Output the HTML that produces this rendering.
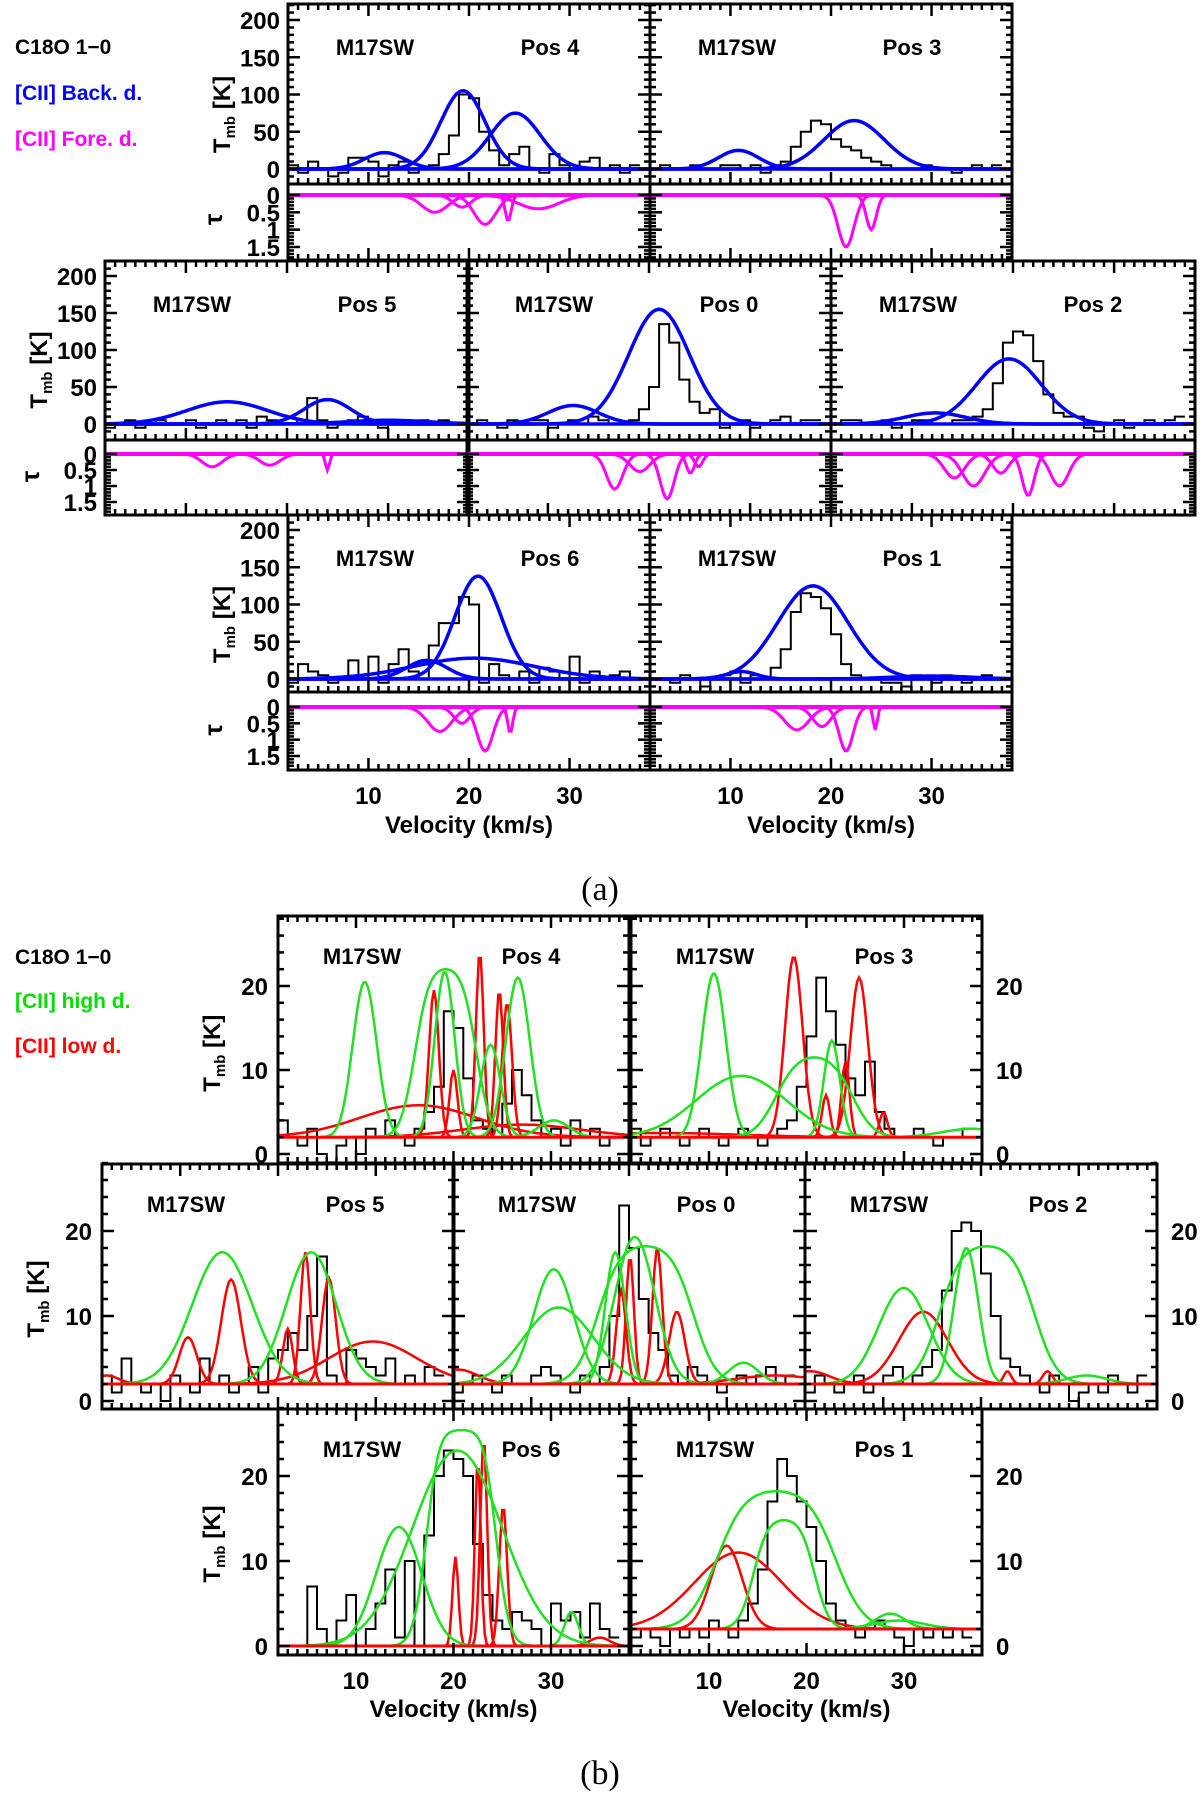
<!DOCTYPE html>
<html><head><meta charset="utf-8"><style>
body{margin:0;background:#fff}
svg text{font-family:"Liberation Sans",sans-serif;font-weight:bold}
</style></head><body>
<svg id="fig" width="1200" height="1795" viewBox="0 0 1200 1795" xmlns="http://www.w3.org/2000/svg">
<g id="legendA">
<text x="15" y="54" font-size="21" fill="#000">C18O 1−0</text>
<text x="15" y="100" font-size="21" fill="#0000ff">[CII] Back. d.</text>
<text x="15" y="146" font-size="21" fill="#ff00ff">[CII] Fore. d.</text>
</g>
<g id="legendB">
<text x="15" y="964" font-size="21" fill="#000">C18O 1−0</text>
<text x="15" y="1008" font-size="21" fill="#00e000">[CII] high d.</text>
<text x="15" y="1053" font-size="21" fill="#ff0000">[CII] low d.</text>
</g>
<text x="600" y="900" font-size="34" text-anchor="middle" style="font-family:'Liberation Serif',serif;font-weight:normal">(a)</text>
<text x="600" y="1784" font-size="34" text-anchor="middle" style="font-family:'Liberation Serif',serif;font-weight:normal">(b)</text>
</svg>
<script>
// ---------- data (a) ----------
const aPositions = ["Pos 4","Pos 3","Pos 5","Pos 0","Pos 2","Pos 6","Pos 1"];
const aObs = [
 [15,5,-5,10,0,-10,-5,15,15,10,-10,5,10,-5,0,5,20,45,100,95,50,25,5,20,30,0,-5,20,5,0,10,15,0,5,-5,5],
 [5,0,5,0,0,5,0,0,5,5,0,5,-5,5,10,30,50,65,60,40,30,25,15,10,5,0,0,0,5,0,0,-5,0,5,0,5],
 [5,-5,0,5,-5,0,5,0,0,5,-5,0,5,0,5,-5,10,5,0,0,5,35,5,-5,0,5,10,5,-5,0,5,0,5,0,5,0],
 [5,0,5,0,-5,5,0,5,5,-5,0,5,0,10,5,0,0,5,20,50,135,110,60,30,15,20,-5,0,5,-5,0,5,10,0,5,5],
 [5,0,5,5,0,0,5,-5,0,5,5,0,0,5,5,10,20,55,110,125,120,85,40,15,10,10,-5,-10,0,5,-5,0,5,0,5,10],
 [30,-5,20,10,5,-5,0,25,0,30,-5,20,40,10,0,45,75,75,110,100,-5,20,5,0,10,-5,15,10,0,30,-5,10,0,5,10,0],
 [5,0,0,-5,5,0,-10,0,5,10,-5,5,0,15,40,90,115,110,95,60,20,5,0,0,-5,-5,-10,5,0,-5,5,0,-5,0,5,0]
];
// blue gaussians: [amp, center, sigma]
const aBack = [
 [[22,11.6,2],[105,19.4,2.2],[75,24.6,2.5]],
 [[25,10.8,2],[65,22.3,3]],
 [[30,14.1,4],[33,24,2.3],[5,30,4]],
 [[25,12.5,2.5],[155,21,3]],
 [[15,12.3,3],[88,19.6,3.2]],
 [[25,15.8,2],[138,20.9,2.3],[28,20.5,6]],
 [[10,11.1,1.5],[125,18.2,3.5],[4,30,4]]
];
// magenta optical depth: [tau, center, sigma]
const aFore = [
 [[0.5,16.6,1.3],[0.35,19.3,0.9],[0.85,21.6,1.1],[0.75,23.9,0.3],[0.4,26.9,2]],
 [[1.5,21.5,0.8],[1.0,24,0.5]],
 [[0.4,12.6,1],[0.35,18.3,1],[0.5,24,0.2]],
 [[1.1,16.6,0.8],[0.55,19.1,1],[1.4,21.8,0.7],[0.6,24.1,0.4],[0.4,24.9,0.4]],
 [[0.75,14.2,1],[1.0,16.1,1.1],[0.6,18.8,0.8],[1.3,21.5,0.6],[1.0,24.6,0.9]],
 [[0.75,17.1,1.2],[0.5,19.3,0.8],[1.35,21.6,0.8],[0.8,24.1,0.25]],
 [[0.7,16.6,1.2],[0.6,19.1,0.9],[1.35,21.5,0.7],[0.7,24.4,0.2]]
];
const aYTicks = [0,50,100,150,200];
const aTauTicks = ["0","0.5","1","1.5"];
const aTauTickVals = [0,0.5,1,1.5];
const xTicks = [10,20,30];

// ---------- data (b) ----------
const bPositions = ["Pos 4","Pos 3","Pos 5","Pos 0","Pos 2","Pos 6","Pos 1"];
const bBase = [2,2,2,2,2,0,2];
const bObs = [
 [3,4,2,1,3,0,-1,1,2,0,3,2,4,2,1,3,5,8,17,15,9,4,3,2,6,10,7,4,2,3,1,4,2,3,1,2],
 [2,3,1,2,3,2,1,2,3,2,1,2,3,2,1,2,3,4,8,14,21,17,13,9,7,11,5,3,2,2,3,2,1,2,2,3],
 [4,3,1,5,2,1,2,0,3,2,1,5,2,3,1,2,4,1,5,6,8,6,10,17,3,2,6,5,4,3,5,2,3,2,4,3],
 [3,1,2,3,2,1,3,2,2,3,4,3,2,1,3,2,4,10,23,18,12,8,6,3,2,4,3,2,1,2,3,2,3,4,2,3],
 [2,1,3,2,1,2,3,1,2,3,4,2,3,4,6,13,20,21,20,15,10,5,4,3,2,1,3,2,0,1,2,1,3,2,1,3],
 [0,0,0,0,7,2,0,3,6,0,2,5,9,1,10,0,13,20,23,22,20,12,6,3,2,4,3,2,0,5,3,4,1,5,2,1],
 [2,1,2,1,0,2,1,2,1,3,2,1,3,5,9,17,22,20,17,14,10,5,3,2,1,2,3,2,1,0,2,1,2,1,2,1]
];
// green high density: [peak above base, center, sigma, tau]
const bHigh = [
 [[18.5,10.9,1.2,0.1],[20,19.2,1.8,3],[19.7,19.1,1,0.1],[19,26.6,1.2,0.1],[11,23.8,1,0.1],[2,30.3,1.5,0.1]],
 [[19.5,10.5,1.2,0.1],[7.3,13.3,4.5,0.1],[9.5,20.8,2.5,2],[11.5,22.6,0.8,0.1],[1,37,3,0.1]],
 [[15.5,14.3,3,0.1],[15.5,23.4,2.5,0.1]],
 [[13.5,12.3,2,0.1],[9,12.8,3.5,0.1],[16.2,21.7,2.8,3],[17.3,20.6,2,0.1],[15.5,18.6,1,0.1],[2.5,31.7,1.5,0.1]],
 [[11.3,12.1,2.5,0.1],[16,18.5,1.2,0.1],[16.2,20.6,2.8,3],[1,30.8,2,0.1]],
 [[14,14.4,2.3,0.1],[25.4,20.8,1.8,5],[23,20.4,4.5,0.1],[4,32.1,0.7,0.1]],
 [[16.2,16.9,3.5,3],[12.8,17.7,1.8,3],[1.8,28.6,1.5,0.1],[1,29.5,2.5,0.1]]
];
// red low density: [peak above base, center, sigma]
const bLow = [
 [[3.8,16.4,6],[1.5,27,6],[17.5,18,0.5],[22,22.7,0.4],[17.5,24.7,0.4],[16,25.5,0.5],[8,20,0.4]],
 [[21.5,18.7,0.9],[19,25.4,0.9],[9,24,0.4],[5,22,0.4],[3,27.9,0.4],[0.5,5,8]],
 [[5.5,10.8,0.9],[12.3,15.2,1],[15.5,22.8,0.5],[12.5,25.2,0.7],[6.5,21,0.5],[5,29.7,4.5],[1,2.5,1.2]],
 [[11,19.2,0.5],[15,20.1,0.4],[16,22.9,0.5],[8.5,24.9,0.8],[1,35,4],[1.7,2.5,2]],
 [[8.5,14.1,2.5],[1.5,22.7,0.4],[1.5,26.8,0.5],[1.5,2.5,2]],
 [[10.5,20.2,0.3],[24.5,23.1,0.35],[22,22.5,0.3],[16.5,25.1,0.4],[1,35,1]],
 [[9.8,11.8,1.6],[9,13,4.5]]
];
const bYTicks = [0,10,20];

// ---------- drawing ----------
const NS="http://www.w3.org/2000/svg";
const svg=document.getElementById('fig');
const V0=2,V1=38;
const HSTART=1; // first histogram channel starts at 1 km/s
function mk(tag,attrs,parent){const e=document.createElementNS(NS,tag);for(const k in attrs)e.setAttribute(k,attrs[k]);(parent||svg).appendChild(e);return e;}
let clipId=0;
function clip(x,y,w,h){const id='c'+(clipId++);const cp=mk('clipPath',{id:id});mk('rect',{x:x,y:y,width:w,height:h},cp);return 'url(#'+id+')';}
function gauss(p,v){return p[0]*Math.exp(-0.5*((v-p[1])/p[2])**2);}
function smoothPath(fn,xs,ys){let d='';for(let v=V0;v<=V1+0.001;v+=0.2){d+=(d?'L':'M')+xs(v).toFixed(1)+','+ys(fn(v)).toFixed(1);}return d;}
function histPath(vals,xs,ys){let d='';vals.forEach((t,i)=>{const a=xs(HSTART+i),b=xs(HSTART+i+1),y=ys(t).toFixed(1);d+=(i?'L':'M')+a.toFixed(1)+','+y+'L'+b.toFixed(1)+','+y;});return d;}
function ticksY(g,x0,x1,yf,vals,minorStep,lo,hi){
  for(let v=lo;v<=hi+1e-6;v+=minorStep){const y=yf(v);const major=vals.some(t=>Math.abs(t-v)<1e-6);const L=major?12:6;
    mk('line',{x1:x0,y1:y,x2:x0+L,y2:y,stroke:'#000','stroke-width':2.5},g);mk('line',{x1:x1,y1:y,x2:x1-L,y2:y,stroke:'#000','stroke-width':2.5},g);}
}
function ticksX(g,xs,yb,yt,withTop){
  for(let v=3;v<=37;v++){const x=xs(v);const major=v%10==0;const L=major?12:6;
    mk('line',{x1:x,y1:yb,x2:x,y2:yb-L,stroke:'#000','stroke-width':2.5},g);
    if(withTop)mk('line',{x1:x,y1:yt,x2:x,y2:yt+L,stroke:'#000','stroke-width':2.5},g);}
}

// ---- (a) panels ----
const aRows=[
 {cols:[288,650],w:362,top:4,sep:184,bot:260,y0:169,y200:20,t0:195,t15:247,idx:[0,1]},
 {cols:[105,467,831],w:364,top:261,sep:440,bot:515,y0:424,y200:276,t0:454,t15:502,idx:[2,3,4]},
 {cols:[288,650],w:362,top:515,sep:692,bot:770,y0:679,y200:530,t0:707,t15:756,idx:[5,6]}
];
aRows.forEach((r,ri)=>{
  r.cols.forEach((L,ci)=>{
    const k=r.idx[ci];
    const g=mk('g',{});
    
    
    const xs=v=>L+(v-V0)/(V1-V0)*r.w;
    const ys=t=>r.y0-t*(r.y0-r.y200)/200;
    const yt=t=>r.t0+t*(r.t15-r.t0)/1.5;
    const c1=clip(L,r.top,r.w,r.sep-r.top), c2=clip(L,r.sep,r.w,r.bot-r.sep);
    const ob=mk('path',{d:histPath(aObs[k],xs,ys),fill:'none',stroke:'#000','stroke-width':2,'clip-path':c1},g);
    
    
    aBack[k].forEach(p=>{const e=mk('path',{d:smoothPath(v=>gauss(p,v),xs,ys),fill:'none',stroke:'#0000ff','stroke-width':3.5,'clip-path':c1},g);
      
      });
    mk('line',{x1:L,y1:ys(0),x2:L+r.w,y2:ys(0),stroke:'#0000ff','stroke-width':3.5},g);
    aFore[k].forEach(p=>{const e=mk('path',{d:smoothPath(v=>gauss(p,v),xs,yt),fill:'none',stroke:'#ff00ff','stroke-width':3,'clip-path':c2},g);
      
      });
    mk('line',{x1:L,y1:yt(0),x2:L+r.w,y2:yt(0),stroke:'#ff00ff','stroke-width':4},g);
    mk('rect',{x:L,y:r.top,width:r.w,height:r.bot-r.top,fill:'none',stroke:'#000','stroke-width':3},g);
    mk('line',{x1:L,y1:r.sep,x2:L+r.w,y2:r.sep,stroke:'#000','stroke-width':3},g);
    ticksY(g,L,L+r.w,ys,aYTicks,10,-10,220);
    ticksY(g,L,L+r.w,yt,aTauTickVals,0.1,0,1.8);
    ticksX(g,xs,r.bot,r.sep,false);
    ticksX(g,xs,r.sep,r.top,true);
    const t1=mk('text',{x:L+87,y:r.top+51,'font-size':22,'text-anchor':'middle'},g);t1.textContent='M17SW';
    
    const t2=mk('text',{x:L+262,y:r.top+51,'font-size':22,'text-anchor':'middle'},g);t2.textContent=aPositions[k];
    
    if(ci==0){
      aYTicks.forEach(t=>{const e=mk('text',{x:L-8,y:ys(t)+9,'font-size':24,'text-anchor':'end'},g);e.textContent=t;
        });
      aTauTicks.forEach((s,i)=>{const e=mk('text',{x:L-8,y:yt(aTauTickVals[i])+9,'font-size':24,'text-anchor':'end'},g);e.textContent=s;
        });
      const yl=mk('text',{x:0,y:0,'font-size':24,'text-anchor':'middle',transform:`translate(${L-58},${(r.y0+r.y200)/2+20}) rotate(-90)`},g);
      yl.innerHTML='T<tspan font-size="15" dy="5">mb</tspan><tspan dy="-5"> [K]</tspan>';
      
      const tl=mk('text',{x:0,y:0,'font-size':26,'text-anchor':'middle',transform:`translate(${L-66},${yt(0.7)}) rotate(-90)`},g);tl.textContent='τ';
      
    }
    if(ri==2){
      xTicks.forEach(t=>{const e=mk('text',{x:xs(t),y:804,'font-size':24,'text-anchor':'middle'},g);e.textContent=t;
        });
      const xl=mk('text',{x:L+r.w/2,y:833,'font-size':24,'text-anchor':'middle'},g);xl.textContent='Velocity (km/s)';
      
    }
  });
});

// ---- (b) panels ----
const bRows=[
 {cols:[278,631],w:351,top:916,bot:1163,y0:1154,y10:1070,idx:[0,1]},
 {cols:[102,453,805],w:352,top:1164,bot:1409,y0:1401,y10:1316,idx:[2,3,4]},
 {cols:[278,631],w:351,top:1409,bot:1655,y0:1646,y10:1561,idx:[5,6]}
];
function sat(p,base,v){const g=Math.exp(-0.5*((v-p[1])/p[2])**2);return base+p[0]*(1-Math.exp(-p[3]*g))/(1-Math.exp(-p[3]));}
bRows.forEach((r,ri)=>{
  r.cols.forEach((L,ci)=>{
    const k=r.idx[ci];
    const g=mk('g',{});
    
    
    const xs=v=>L+(v-V0)/(V1-V0)*r.w;
    const ys=t=>r.y0-t*(r.y0-r.y10)/10;
    const c=clip(L,r.top,r.w,r.bot-r.top);
    const base=bBase[k];
    const ob=mk('path',{d:histPath(bObs[k],xs,ys),fill:'none',stroke:'#000','stroke-width':2,'clip-path':c},g);
    
    
    bLow[k].forEach(p=>{const e=mk('path',{d:smoothPath(v=>base+gauss(p,v),xs,ys),fill:'none',stroke:'#ff0000','stroke-width':2.5,'clip-path':c},g);
      
      });
    bHigh[k].forEach(p=>{const e=mk('path',{d:smoothPath(v=>sat(p,base,v),xs,ys),fill:'none',stroke:'#22e022','stroke-width':2.5,'clip-path':c},g);
      
      });
    mk('line',{x1:L,y1:ys(base),x2:L+r.w,y2:ys(base),stroke:'#ff0000','stroke-width':3},g);
    mk('rect',{x:L,y:r.top,width:r.w,height:r.bot-r.top,fill:'none',stroke:'#000','stroke-width':3},g);
    ticksY(g,L,L+r.w,ys,bYTicks,2,0,28);
    ticksX(g,xs,r.bot,r.top,true);
    const t1=mk('text',{x:L+84,y:r.top+48,'font-size':22,'text-anchor':'middle'},g);t1.textContent='M17SW';
    
    const t2=mk('text',{x:L+253,y:r.top+48,'font-size':22,'text-anchor':'middle'},g);t2.textContent=bPositions[k];
    
    if(ci==0){
      bYTicks.forEach(t=>{const e=mk('text',{x:L-10,y:ys(t)+9,'font-size':24,'text-anchor':'end'},g);e.textContent=t;
        });
      const yl=mk('text',{x:0,y:0,'font-size':24,'text-anchor':'middle',transform:`translate(${L-58},${ys(12)}) rotate(-90)`},g);
      yl.innerHTML='T<tspan font-size="15" dy="5">mb</tspan><tspan dy="-5"> [K]</tspan>';
      
    }
    if(ci==r.cols.length-1){
      bYTicks.forEach(t=>{const e=mk('text',{x:L+r.w+14,y:ys(t)+9,'font-size':24,'text-anchor':'start'},g);e.textContent=t;
        });
    }
    if(ri==2){
      xTicks.forEach(t=>{const e=mk('text',{x:xs(t),y:1689,'font-size':24,'text-anchor':'middle'},g);e.textContent=t;
        });
      const xl=mk('text',{x:L+r.w/2,y:1717,'font-size':24,'text-anchor':'middle'},g);xl.textContent='Velocity (km/s)';
      
    }
  });
});
</script>
</body></html>
